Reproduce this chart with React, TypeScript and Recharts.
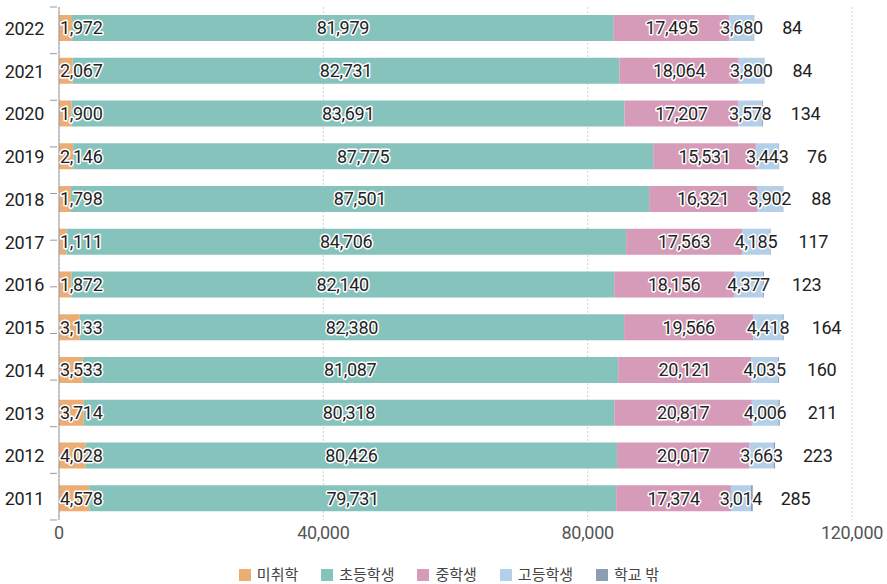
import React from 'react';
import { BarChart, Bar, XAxis, YAxis, CartesianGrid, Legend, LabelList } from 'recharts';

const years = ['2022', '2021', '2020', '2019', '2018', '2017', '2016', '2015', '2014', '2013', '2012', '2011'];
const preschool = [1972, 2067, 1900, 2146, 1798, 1111, 1872, 3133, 3533, 3714, 4028, 4578];
const elementary = [81979, 82731, 83691, 87775, 87501, 84706, 82140, 82380, 81087, 80318, 80426, 79731];
const middle = [17495, 18064, 17207, 15531, 16321, 17563, 18156, 19566, 20121, 20817, 20017, 17374];
const high = [3680, 3800, 3578, 3443, 3902, 4185, 4377, 4418, 4035, 4006, 3663, 3014];
const outOfSchool = [84, 84, 134, 76, 88, 117, 123, 164, 160, 211, 223, 285];
const xTicks = [0, 40000, 80000, 120000];

const seriesNames = ['미취학', '초등학생', '중학생', '고등학생', '학교 밖'];
const seriesKeys = ['preschool', 'elementary', 'middle', 'high', 'outOfSchool'];
const colors = ['#ECAD74', '#86C3BC', '#D59BB9', '#B4CFE8', '#8C9EB1'];

const data = years.map((year, i) => ({
  year,
  preschool: preschool[i],
  elementary: elementary[i],
  middle: middle[i],
  high: high[i],
  outOfSchool: outOfSchool[i],
}));

const FONT = "Roboto, 'Noto Sans CJK KR', sans-serif";
const fmt = (v: number) => Number(v).toLocaleString('en-US');

const W = 887;
const H = 584;
const MARGIN = { top: 7, right: 35, left: 0, bottom: 0 };
const XAXIS_H = 34;
const LEGEND_H = 30;
const PLOT_H = H - MARGIN.top - MARGIN.bottom - XAXIS_H - LEGEND_H;
const BAND = PLOT_H / years.length;

const makeLabel = (mode: 'left' | 'center' | 'right') => (props: any) => {
  const { x, y, width, height, value } = props;
  let tx = x + width / 2;
  let anchor: 'start' | 'middle' | 'end' = 'middle';
  if (mode === 'left') {
    tx = x + 1;
    anchor = 'start';
  } else if (mode === 'right') {
    tx = x + width + 28;
    anchor = 'start';
  }
  return (
    <text
      x={tx}
      y={y + height / 2}
      dy="0.36em"
      textAnchor={anchor}
      fontSize={18}
      fontFamily={FONT}
      fill="#222"
      stroke="#fff"
      strokeWidth={3}
      strokeLinejoin="round"
      paintOrder="stroke"
      letterSpacing={-0.3}
    >
      {fmt(value)}
    </text>
  );
};

const labelModes: ('left' | 'center' | 'right')[] = ['left', 'center', 'center', 'center', 'right'];

const YTick = (props: any) => {
  const { x, y, payload, index } = props;
  const n = years.length;
  const ty = y + BAND * (-0.5 + index / (n - 1));
  return (
    <g>
      <text x={x - 13} y={y} dy="0.36em" textAnchor="end" fontSize={18} fontFamily={FONT} fill="#222" letterSpacing={-0.3}>
        {payload.value}
      </text>
      <line x1={x - 7} x2={x} y1={ty} y2={ty} stroke="#999" strokeWidth={1} />
    </g>
  );
};

const LegendContent = () => (
  <div
    style={{
      display: 'flex',
      justifyContent: 'center',
      alignItems: 'center',
      paddingTop: 11,
      paddingLeft: 11,
      fontFamily: FONT,
      fontSize: 15,
      color: '#444',
      lineHeight: '20px',
    }}
  >
    {seriesNames.map((name, i) => (
      <div key={name} style={{ display: 'flex', alignItems: 'center', marginRight: i < seriesNames.length - 1 ? 23 : 0 }}>
        <span style={{ display: 'inline-block', width: 12, height: 12, background: colors[i], marginRight: 6 }} />
        <span>{name}</span>
      </div>
    ))}
  </div>
);

export default function App() {
  return (
    <div style={{ width: W, height: H }}>
      <style>{`body{margin:0;}`}</style>
      <BarChart width={W} height={H} data={data} layout="vertical" margin={MARGIN} barSize={26}>
        <CartesianGrid horizontal={false} stroke="#d0d0d0" strokeDasharray="2 2" />
        <XAxis
          type="number"
          domain={[0, 120000]}
          ticks={xTicks}
          tickFormatter={fmt}
          axisLine={false}
          tickLine={false}
          height={XAXIS_H}
          tickMargin={0}
          tick={{ fontSize: 18, fill: '#555', fontFamily: FONT, letterSpacing: -0.3 }}
        />
        <YAxis
          type="category"
          dataKey="year"
          width={59}
          axisLine={{ stroke: '#999' }}
          tickLine={false}
          tickSize={0}
          tick={<YTick />}
        />
        <Legend
          verticalAlign="bottom"
          height={LEGEND_H}
          wrapperStyle={{ left: 0, width: W }}
          content={<LegendContent />}
        />
        {seriesKeys.map((key, i) => (
          <Bar key={key} dataKey={key} name={seriesNames[i]} stackId="a" fill={colors[i]} isAnimationActive={false}>
            <LabelList dataKey={key} content={makeLabel(labelModes[i])} />
          </Bar>
        ))}
      </BarChart>
    </div>
  );
}
